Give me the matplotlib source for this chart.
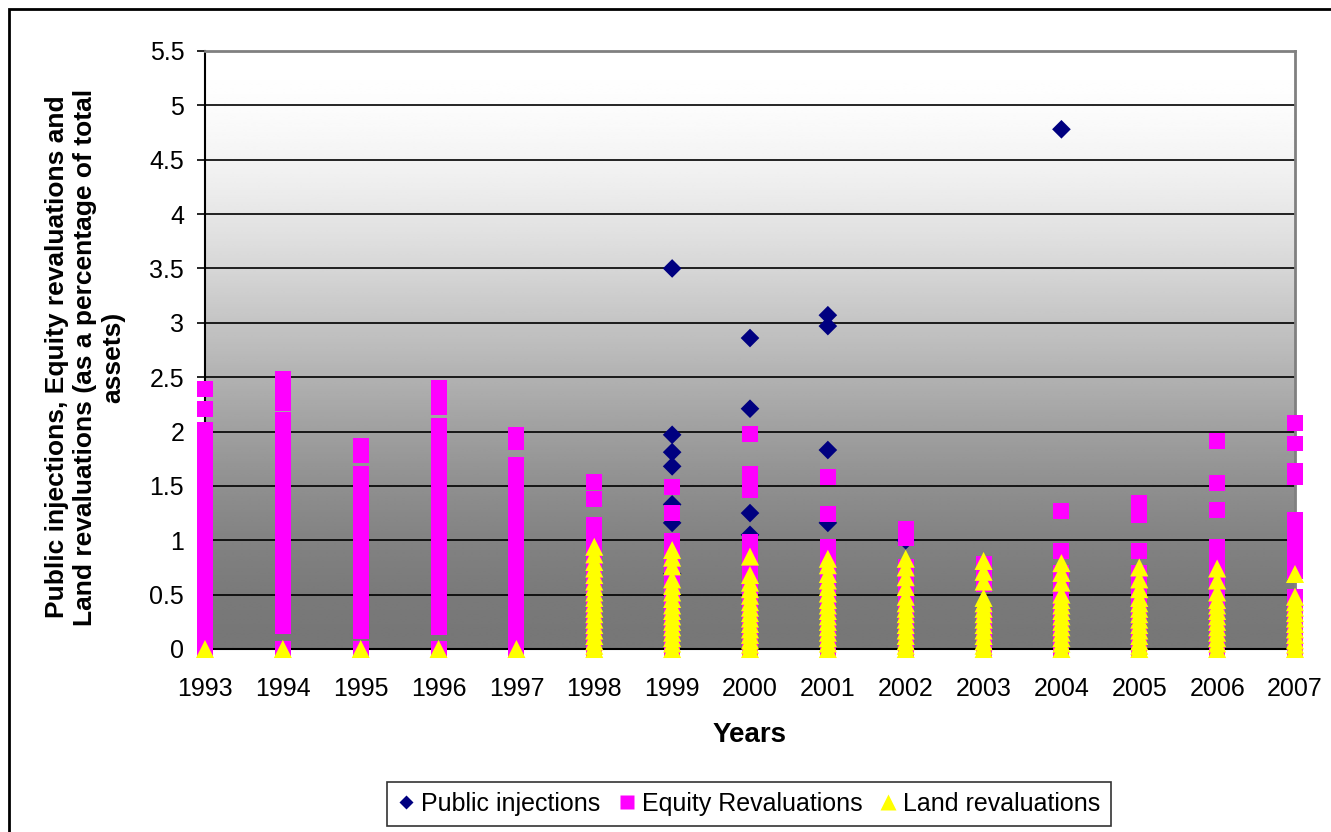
"""
Public injections / equity / land revaluations scatter, Excel look
"""
import numpy as np
import matplotlib
matplotlib.use("Agg")
import matplotlib.pyplot as plt
from matplotlib.patches import Rectangle
from matplotlib.lines import Line2D

plt.rcParams['font.family'] = ['Liberation Sans', 'DejaVu Sans']

years = [1993, 1994, 1995, 1996, 1997, 1998, 1999, 2000,
         2001, 2002, 2003, 2004, 2005, 2006, 2007]

# one inner list per year (same order as years)
public_inj = [
    [], [], [], [], [], [],
    [3.50, 1.97, 1.81, 1.68, 1.33, 1.16, 0.69],
    [2.86, 2.21, 1.25, 1.05],
    [3.07, 2.97, 1.83, 1.16],
    [1.00],
    [],
    [4.78],
    [], [], [],
]

equity_reval = [
    [2.39, 2.21, 2.01, 1.94, 1.87, 1.80, 1.73, 1.66, 1.59, 1.52, 1.45, 1.38,
     1.31, 1.24, 1.17, 1.10, 1.03, 0.96, 0.89, 0.82, 0.75, 0.68, 0.61, 0.54,
     0.47, 0.40, 0.33, 0.26, 0.19, 0.12, 0.06, 0.0],
    [2.48, 2.42, 2.36, 2.30, 2.26, 2.11, 2.04, 1.90, 1.83, 1.76, 1.69, 1.62,
     1.55, 1.48, 1.41, 1.34, 1.27, 1.20, 1.13, 1.06, 0.99, 0.92, 0.85, 0.78,
     0.71, 0.64, 0.57, 0.50, 0.43, 0.36, 0.29, 0.21, 0.0],
    [1.87, 1.78, 1.61, 1.54, 1.47, 1.40, 1.33, 1.26, 1.19, 1.12, 1.05, 0.98,
     0.91, 0.84, 0.77, 0.70, 0.63, 0.56, 0.49, 0.42, 0.35, 0.28, 0.17, 0.0],
    [2.40, 2.33, 2.27, 2.23, 2.05, 2.00, 1.85, 1.78, 1.71, 1.64, 1.57, 1.50,
     1.43, 1.36, 1.29, 1.22, 1.15, 1.08, 1.01, 0.94, 0.87, 0.80, 0.73, 0.66,
     0.59, 0.52, 0.45, 0.38, 0.31, 0.24, 0.20, 0.0],
    [1.97, 1.90, 1.69, 1.62, 1.55, 1.48, 1.41, 1.34, 1.27, 1.20, 1.13, 1.06,
     0.99, 0.92, 0.85, 0.78, 0.71, 0.64, 0.57, 0.50, 0.43, 0.36, 0.29, 0.22,
     0.15, 0.08, 0.0],
    [1.54, 1.38, 1.14, 1.06, 0.98, 0.90, 0.82, 0.74, 0.66, 0.58, 0.50, 0.42,
     0.34, 0.26, 0.18, 0.10, 0.0],
    [1.49, 1.25, 0.99, 0.90, 0.80, 0.70, 0.60, 0.50, 0.40, 0.30, 0.20, 0.10, 0.0],
    [1.98, 1.61, 1.46, 0.98, 0.90, 0.80, 0.70, 0.60, 0.50, 0.40, 0.30, 0.20,
     0.10, 0.0],
    [1.58, 1.24, 0.94, 0.88, 0.80, 0.70, 0.60, 0.50, 0.40, 0.30, 0.20, 0.10, 0.0],
    [1.10, 1.05, 1.02, 0.75, 0.60, 0.50, 0.40, 0.30, 0.20, 0.10, 0.0],
    [0.78, 0.70, 0.60, 0.30, 0.20, 0.10, 0.0],
    [1.27, 0.90, 0.70, 0.60, 0.50, 0.40, 0.30, 0.20, 0.10, 0.0],
    [1.34, 1.28, 1.23, 0.90, 0.70, 0.60, 0.45, 0.30, 0.15, 0.0],
    [1.91, 1.53, 1.28, 0.94, 0.88, 0.82, 0.75, 0.60, 0.45, 0.30, 0.15, 0.0],
    [2.08, 1.89, 1.64, 1.58, 1.19, 1.12, 1.05, 0.98, 0.92, 0.80, 0.72, 0.48,
     0.40, 0.30, 0.20, 0.10, 0.0],
]

land_reval = [
    [0.0], [0.0], [0.0], [0.0], [0.0],
    [0.94, 0.87, 0.80, 0.74, 0.68, 0.62, 0.57, 0.52, 0.47, 0.42, 0.37, 0.32,
     0.27, 0.22, 0.17, 0.12, 0.07, 0.03, 0.0],
    [0.91, 0.84, 0.76, 0.64, 0.58, 0.52, 0.46, 0.40, 0.35, 0.30, 0.25, 0.20,
     0.15, 0.10, 0.05, 0.0],
    [0.85, 0.68, 0.61, 0.55, 0.49, 0.43, 0.38, 0.33, 0.28, 0.23, 0.18, 0.13,
     0.08, 0.04, 0.0],
    [0.83, 0.77, 0.69, 0.63, 0.57, 0.51, 0.45, 0.40, 0.35, 0.30, 0.25, 0.20,
     0.15, 0.10, 0.05, 0.0],
    [0.83, 0.75, 0.66, 0.57, 0.48, 0.42, 0.37, 0.32, 0.27, 0.22, 0.17, 0.12,
     0.07, 0.03, 0.0],
    [0.81, 0.71, 0.62, 0.47, 0.42, 0.37, 0.32, 0.27, 0.22, 0.17, 0.12, 0.07,
     0.03, 0.0],
    [0.79, 0.70, 0.61, 0.50, 0.45, 0.40, 0.35, 0.30, 0.25, 0.20, 0.15, 0.10,
     0.05, 0.0],
    [0.75, 0.64, 0.55, 0.47, 0.42, 0.37, 0.32, 0.27, 0.22, 0.17, 0.12, 0.07,
     0.03, 0.0],
    [0.74, 0.63, 0.52, 0.45, 0.40, 0.35, 0.30, 0.25, 0.20, 0.15, 0.10, 0.05, 0.0],
    [0.69, 0.48, 0.43, 0.38, 0.33, 0.28, 0.23, 0.18, 0.13, 0.08, 0.04, 0.0],
]

ytick_vals = [0, 0.5, 1, 1.5, 2, 2.5, 3, 3.5, 4, 4.5, 5, 5.5]
ytick_labels = ['0', '0.5', '1', '1.5', '2', '2.5', '3', '3.5', '4', '4.5', '5', '5.5']

NAVY = '#000080'
MAGENTA = '#ff00ff'
YELLOW = '#ffff00'


def flatten(series):
    xs, ys = [], []
    for yr, vals in zip(years, series):
        for v in vals:
            xs.append(yr)
            ys.append(v)
    return xs, ys


fig = plt.figure(figsize=(13.31, 8.32), dpi=100)
ax = fig.add_axes([205/1331, 183/832, 1090/1331, 598/832])

# gradient background (white top -> dark grey bottom)
t = np.linspace(0, 1, 256)
s = 3*t**2 - 2*t**3
grad = (119 + 136*s)/255.0
img = np.repeat(grad[:, None], 2, axis=1)
ax.imshow(img, extent=[1993, 2007, 0, 5.5], origin='lower', aspect='auto',
          cmap='gray', vmin=0, vmax=1, zorder=0, interpolation='bilinear')

for yv in ytick_vals[1:-1]:
    ax.axhline(yv, color='black', lw=1.2, zorder=1)

px, py = flatten(public_inj)
ex, ey = flatten(equity_reval)
lx, ly = flatten(land_reval)

ax.scatter(px, py, marker='D', s=9.5**2, color=NAVY, edgecolors='none',
           zorder=3, clip_on=False)
ax.scatter(ex, ey, marker='s', s=11.5**2, color=MAGENTA, edgecolors='none',
           zorder=4, clip_on=False)
ax.scatter(lx, ly, marker='^', s=13**2, color=YELLOW, edgecolors='none',
           zorder=5, clip_on=False)

ax.set_xlim(1993, 2007)
ax.set_ylim(0, 5.5)

ax.spines['left'].set_color('black')
ax.spines['bottom'].set_color('black')
ax.spines['left'].set_linewidth(1.5)
ax.spines['bottom'].set_linewidth(1.5)
ax.spines['top'].set_color('#808080')
ax.spines['right'].set_color('#808080')
ax.spines['top'].set_linewidth(2)
ax.spines['right'].set_linewidth(2)

ax.set_yticks(ytick_vals)
ax.set_yticklabels(ytick_labels, fontsize=18)
ax.set_xticks(years)
ax.set_xticklabels([str(y) for y in years], fontsize=18)
ax.tick_params(axis='y', direction='out', length=6, width=1.2, pad=9, color='black')
ax.tick_params(axis='x', direction='out', length=3, width=1.2, pad=17, color='#808080')

ax.set_xlabel('Years', fontsize=20, fontweight='bold', labelpad=15)

fig.text(85/1331, 1 - 357/832,
         'Public injections, Equity revaluations and\n'
         'Land revaluations (as a percentage of total\nassets)',
         rotation=90, ha='center', va='center', multialignment='center',
         fontsize=19, fontweight='bold', linespacing=1.22)

handles = [
    Line2D([], [], ls='none', marker='D', ms=7.5, color=NAVY, mec='none'),
    Line2D([], [], ls='none', marker='s', ms=10, color=MAGENTA, mec='none'),
    Line2D([], [], ls='none', marker='^', ms=11, color=YELLOW, mec='none'),
]
leg = fig.legend(handles, ['Public injections', 'Equity Revaluations', 'Land revaluations'],
                 loc='center', bbox_to_anchor=(749/1331, 1 - 804/832), ncol=3,
                 fontsize=18, frameon=True, fancybox=False, handlelength=0.7,
                 handletextpad=0.25, columnspacing=0.7, borderpad=0.4)
leg.get_frame().set_edgecolor('black')
leg.get_frame().set_linewidth(1.2)

# outer chart border
fig.patches.append(Rectangle((9/1331, -0.05), 1.2, 1 - 9/832 + 0.05,
                             transform=fig.transFigure, fill=False,
                             edgecolor='black', lw=2))

fig.savefig('out.png', dpi=100)
